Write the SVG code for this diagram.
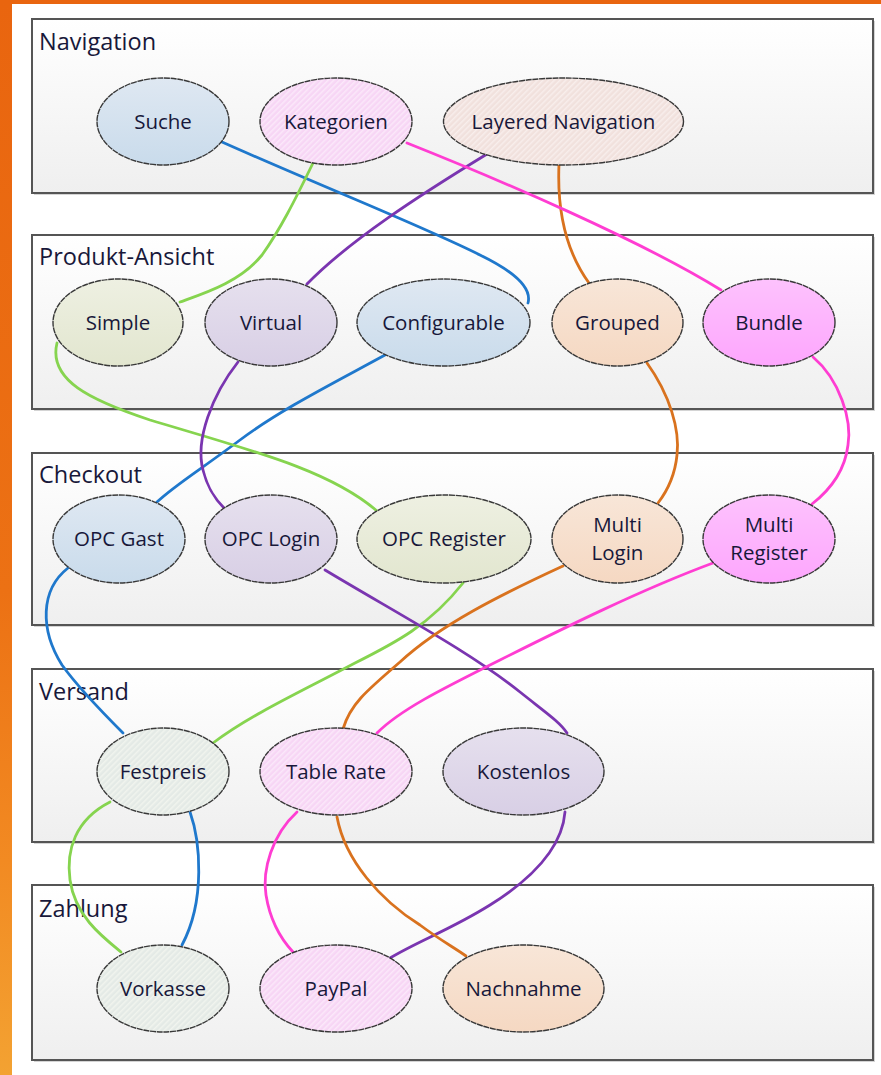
<svg xmlns="http://www.w3.org/2000/svg" width="881" height="1075" viewBox="0 0 881 1075">
<defs>
<linearGradient id="bar" x1="0" y1="0" x2="0" y2="1">
<stop offset="0" stop-color="#e9650f"/><stop offset="0.55" stop-color="#ec7114"/><stop offset="0.8" stop-color="#f28a22"/><stop offset="1" stop-color="#f3a232"/>
</linearGradient>
<linearGradient id="box" x1="0" y1="0" x2="0" y2="1">
<stop offset="0" stop-color="#ffffff"/><stop offset="1" stop-color="#efefef"/>
</linearGradient>
<linearGradient id="blue" x1="0" y1="0" x2="0" y2="1"><stop offset="0" stop-color="#dfe8f2"/><stop offset="1" stop-color="#c9dbeb"/></linearGradient>
<linearGradient id="lav" x1="0" y1="0" x2="0" y2="1"><stop offset="0" stop-color="#e6e0ee"/><stop offset="1" stop-color="#d8cfe5"/></linearGradient>
<linearGradient id="olive" x1="0" y1="0" x2="0" y2="1"><stop offset="0" stop-color="#eef0e2"/><stop offset="1" stop-color="#e2e6cf"/></linearGradient>
<linearGradient id="peach" x1="0" y1="0" x2="0" y2="1"><stop offset="0" stop-color="#f8e6d8"/><stop offset="1" stop-color="#f5d8c2"/></linearGradient>
<linearGradient id="magenta" x1="0" y1="0" x2="0" y2="1"><stop offset="0" stop-color="#fdc2fd"/><stop offset="1" stop-color="#fda6fd"/></linearGradient>
<pattern id="hpink" width="4" height="4" patternUnits="userSpaceOnUse" patternTransform="rotate(45)">
<rect width="4" height="4" fill="#f7d6f5"/><rect width="1.5" height="4" fill="#fbe8fa"/>
</pattern>
<pattern id="hbeige" width="4" height="4" patternUnits="userSpaceOnUse" patternTransform="rotate(45)">
<rect width="4" height="4" fill="#f1e1dd"/><rect width="1.5" height="4" fill="#f8eeec"/>
</pattern>
<pattern id="hgray" width="4" height="4" patternUnits="userSpaceOnUse" patternTransform="rotate(45)">
<rect width="4" height="4" fill="#e4eae6"/><rect width="1.5" height="4" fill="#f1f4ee"/>
</pattern>
<style>
.grp{fill:url(#box);stroke:#555;stroke-width:2}
.shd{fill:#d4d4d4}
.gl{font-family:"Open Sans","DejaVu Sans",sans-serif;font-size:23.5px;fill:#18183a}
.n ellipse{stroke:#383838;stroke-width:1.4;stroke-dasharray:6 0.7}
.n text{font-family:"Open Sans","DejaVu Sans",sans-serif;font-size:20.5px;fill:#18183a;text-anchor:middle}
.c path{fill:none;stroke-width:2.8;stroke-linecap:round}
.cb{stroke:#1f78cc}.cg{stroke:#86d44f}.cp{stroke:#7a35b0}.co{stroke:#d9721e}.ck{stroke:#ff3dd2}
</style>
</defs>
<rect width="881" height="1075" fill="#ffffff"/>
<rect x="0" y="0" width="881" height="4" fill="#e9650f"/>
<rect x="0" y="0" width="12" height="1075" fill="url(#bar)"/>

<g id="groups">
<g id="g-navigation"><rect class="shd" x="34" y="21" width="841" height="174"/><rect class="grp" x="32" y="19" width="841" height="174"/><text class="gl" x="39" y="50">Navigation</text></g>
<g id="g-produkt"><rect class="shd" x="34" y="237" width="841" height="174"/><rect class="grp" x="32" y="235" width="841" height="174"/><text class="gl" x="39" y="265">Produkt-Ansicht</text></g>
<g id="g-checkout"><rect class="shd" x="34" y="455" width="841" height="172"/><rect class="grp" x="32" y="453" width="841" height="172"/><text class="gl" x="39" y="483">Checkout</text></g>
<g id="g-versand"><rect class="shd" x="34" y="671" width="841" height="173"/><rect class="grp" x="32" y="669" width="841" height="173"/><text class="gl" x="39" y="700">Versand</text></g>
<g id="g-zahlung"><rect class="shd" x="34" y="887" width="841" height="175"/><rect class="grp" x="32" y="885" width="841" height="175"/><text class="gl" x="39" y="917">Zahlung</text></g>
</g>

<g id="connectors" class="c">
<path class="cb" d="M222,142 C330,190 420,225 480,255 C515,272 532,288 528,303"/>
<path class="cb" d="M385,355 C330,385 280,410 240,440 C200,470 175,485 157,502"/>
<path class="cb" d="M68,568 C40,590 40,630 62,665 C80,690 105,715 123,733"/>
<path class="cb" d="M190,812 C200,840 206,900 182,945"/>
<path class="cg" d="M313,163 C295,200 280,230 262,255 C240,282 205,293 180,302"/>
<path class="cg" d="M57,343 C48,380 90,400 150,420 C250,450 330,470 377,511"/>
<path class="cg" d="M463,583 C430,625 395,643 355,663 C300,692 250,715 213,743"/>
<path class="cg" d="M110,802 C75,820 66,850 70,880 C75,915 100,935 121,952"/>
<path class="cp" d="M487,154 C420,195 350,240 307,284"/>
<path class="cp" d="M238,362 C212,395 195,440 203,470 C208,490 216,500 224,508"/>
<path class="cp" d="M325,570 C400,615 470,652 520,692 C545,712 560,722 567,733"/>
<path class="cp" d="M565,812 C562,850 530,880 490,905 C450,930 420,940 390,958"/>
<path class="co" d="M559,164 C557,210 565,250 589,283"/>
<path class="co" d="M647,363 C670,395 680,430 677,455 C675,475 668,490 658,503"/>
<path class="co" d="M563,566 C500,595 440,625 400,662 C365,692 350,705 343,729"/>
<path class="co" d="M337,817 C345,860 380,900 420,925 C440,940 455,948 466,956"/>
<path class="ck" d="M407,143 C500,180 640,240 721,290"/>
<path class="ck" d="M813,357 C840,380 852,420 848,445 C845,470 830,490 812,504"/>
<path class="ck" d="M713,563 C640,590 560,630 500,660 C440,690 400,710 377,733"/>
<path class="ck" d="M297,812 C272,835 262,870 266,895 C270,920 280,938 293,952"/>
</g>

<g id="nodes">
<g id="n-suche" class="n"><ellipse cx="163" cy="121.5" rx="66" ry="43.5" fill="url(#blue)"/><text x="163" y="128.5">Suche</text></g>
<g id="n-kategorien" class="n"><ellipse cx="336" cy="121.5" rx="76" ry="43.5" fill="url(#hpink)"/><text x="336" y="128.5">Kategorien</text></g>
<g id="n-layered" class="n"><ellipse cx="563.5" cy="121.5" rx="120" ry="43.5" fill="url(#hbeige)"/><text x="563.5" y="128.5">Layered Navigation</text></g>

<g id="n-simple" class="n"><ellipse cx="118" cy="322.5" rx="65" ry="43.5" fill="url(#olive)"/><text x="118" y="329.5">Simple</text></g>
<g id="n-virtual" class="n"><ellipse cx="271" cy="322.5" rx="66" ry="43.5" fill="url(#lav)"/><text x="271" y="329.5">Virtual</text></g>
<g id="n-configurable" class="n"><ellipse cx="443.5" cy="322.5" rx="86.5" ry="43.5" fill="url(#blue)"/><text x="443.5" y="329.5">Configurable</text></g>
<g id="n-grouped" class="n"><ellipse cx="617.5" cy="322.5" rx="65.5" ry="43.5" fill="url(#peach)"/><text x="617.5" y="329.5">Grouped</text></g>
<g id="n-bundle" class="n"><ellipse cx="769" cy="322.5" rx="66" ry="43.5" fill="url(#magenta)"/><text x="769" y="329.5">Bundle</text></g>

<g id="n-opcgast" class="n"><ellipse cx="119" cy="539" rx="66" ry="44" fill="url(#blue)"/><text x="119" y="546">OPC Gast</text></g>
<g id="n-opclogin" class="n"><ellipse cx="271" cy="539" rx="66" ry="44" fill="url(#lav)"/><text x="271" y="546">OPC Login</text></g>
<g id="n-opcregister" class="n"><ellipse cx="444" cy="539" rx="87" ry="44" fill="url(#olive)"/><text x="444" y="546">OPC Register</text></g>
<g id="n-multilogin" class="n"><ellipse cx="617.5" cy="539" rx="65.5" ry="44" fill="url(#peach)"/><text x="617.5" y="532">Multi</text><text x="617.5" y="560">Login</text></g>
<g id="n-multiregister" class="n"><ellipse cx="769" cy="539" rx="66" ry="44" fill="url(#magenta)"/><text x="769" y="532">Multi</text><text x="769" y="560">Register</text></g>

<g id="n-festpreis" class="n"><ellipse cx="163" cy="771.5" rx="66" ry="43.5" fill="url(#hgray)"/><text x="163" y="778.5">Festpreis</text></g>
<g id="n-tablerate" class="n"><ellipse cx="336" cy="771.5" rx="76" ry="43.5" fill="url(#hpink)"/><text x="336" y="778.5">Table Rate</text></g>
<g id="n-kostenlos" class="n"><ellipse cx="523.5" cy="771.5" rx="80.5" ry="43.5" fill="url(#lav)"/><text x="523.5" y="778.5">Kostenlos</text></g>

<g id="n-vorkasse" class="n"><ellipse cx="163" cy="988.5" rx="66" ry="43.5" fill="url(#hgray)"/><text x="163" y="995.5">Vorkasse</text></g>
<g id="n-paypal" class="n"><ellipse cx="336" cy="988.5" rx="76" ry="43.5" fill="url(#hpink)"/><text x="336" y="995.5">PayPal</text></g>
<g id="n-nachnahme" class="n"><ellipse cx="523.5" cy="988.5" rx="80.5" ry="43.5" fill="url(#peach)"/><text x="523.5" y="995.5">Nachnahme</text></g>
</g>
</svg>
